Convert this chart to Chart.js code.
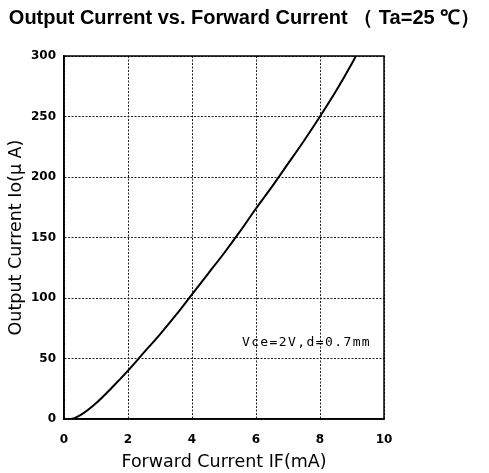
<!DOCTYPE html>
<html>
<head>
<meta charset="utf-8">
<script src="https://cdn.jsdelivr.net/npm/chart.js@4"></script>
<style>
  body { margin: 0; background: #fff; }
  #wrap { width: 489px; height: 473px; }
</style>
</head>
<body>
<div id="wrap"><canvas id="mychart"></canvas></div>
<script>
// data
const forwardCurrent = [0, 0.2, 0.5, 1, 1.5, 2, 2.5, 3, 3.5, 4, 4.5, 5, 5.5, 6, 6.5, 7, 7.5, 8, 8.5, 9, 9.12];
const outputCurrent  = [0, 0, 3, 13, 26, 40, 55, 70, 86, 103, 120, 137, 155, 174, 192, 211, 230, 250, 271, 294, 300];
const xTicks = [0, 2, 4, 6, 8, 10];
const yTicks = [0, 50, 100, 150, 200, 250, 300];
const noteText = 'Vce=2V,d=0.7mm';
const notePos = [5.56, 63];

const points = forwardCurrent.map((x, i) => ({ x: x, y: outputCurrent[i] }));

// tekst inne i plottet
const notePlugin = {
    id: 'note',
    afterDatasetsDraw(chart) {
        const ctx = chart.ctx;
        const px = chart.scales.x.getPixelForValue(notePos[0]);
        const py = chart.scales.y.getPixelForValue(notePos[1]);
        ctx.save();
        ctx.font = '13px "DejaVu Sans Mono"';
        ctx.letterSpacing = '1.4px';
        ctx.fillStyle = '#000';
        ctx.textBaseline = 'middle';
        ctx.textAlign = 'left';
        ctx.fillText(noteText, px, py);
        ctx.restore();
    }
};

// ramme rundt plottet
const framePlugin = {
    id: 'frame',
    afterDraw(chart) {
        const a = chart.chartArea;
        const ctx = chart.ctx;
        ctx.save();
        ctx.strokeStyle = '#000';
        ctx.lineWidth = 1.5;
        ctx.strokeRect(a.left, a.top, a.right - a.left, a.bottom - a.top);
        ctx.restore();
    }
};

const gridStyle = {
    color: '#222',
    lineWidth: 1,
    drawTicks: false
};

const mychart = new Chart(document.getElementById('mychart'), {
    type: 'line',
    data: {
        datasets: [{
            data: points,
            borderColor: '#000',
            borderWidth: 2,
            pointRadius: 0,
            cubicInterpolationMode: 'monotone',
            fill: false
        }]
    },
    options: {
        responsive: true,
        maintainAspectRatio: false,
        animation: false,
        layout: { padding: 0 },
        plugins: {
            legend: { display: false },
            tooltip: { enabled: false },
            title: {
                display: true,
                text: 'Output Current vs. Forward Current （ Ta=25 ℃）',
                color: '#000',
                font: { family: '"Liberation Sans", Arial', size: 20, weight: 'bold' },
                padding: { top: 6, bottom: 26 }
            }
        },
        scales: {
            x: {
                type: 'linear',
                min: 0,
                max: 10,
                afterBuildTicks: s => { s.ticks = xTicks.map(v => ({ value: v })); },
                afterFit: s => { s.height = 54; },
                ticks: {
                    color: '#000',
                    padding: 14,
                    font: { family: '"DejaVu Sans"', size: 12, weight: 'bold' }
                },
                grid: gridStyle,
                border: { display: true, color: '#000', width: 1.5, dash: [2, 1.5] },
                title: {
                    display: true,
                    text: 'Forward Current IF(mA)',
                    color: '#000',
                    font: { family: '"DejaVu Sans"', size: 17.5 },
                    padding: { top: 0, bottom: 0 }
                }
            },
            y: {
                type: 'linear',
                min: 0,
                max: 300,
                afterBuildTicks: s => { s.ticks = yTicks.map(v => ({ value: v })); },
                afterFit: s => { s.width = 64; },
                ticks: {
                    color: '#000',
                    padding: 8,
                    font: { family: '"DejaVu Sans"', size: 12, weight: 'bold' }
                },
                grid: gridStyle,
                border: { display: true, color: '#000', width: 1.5, dash: [2, 1.5] },
                title: {
                    display: true,
                    text: 'Output Current Io(μ A)',
                    color: '#000',
                    font: { family: '"DejaVu Sans"', size: 17.5 },
                    padding: { top: 6, bottom: 0 }
                }
            },
            // tom akse til høyre, holder plass
            yRight: {
                position: 'right',
                display: true,
                afterFit: s => { s.width = 105; },
                ticks: { display: false },
                grid: { display: false, drawTicks: false },
                border: { display: false }
            }
        }
    },
    plugins: [notePlugin, framePlugin]
});
</script>
</body>
</html>
